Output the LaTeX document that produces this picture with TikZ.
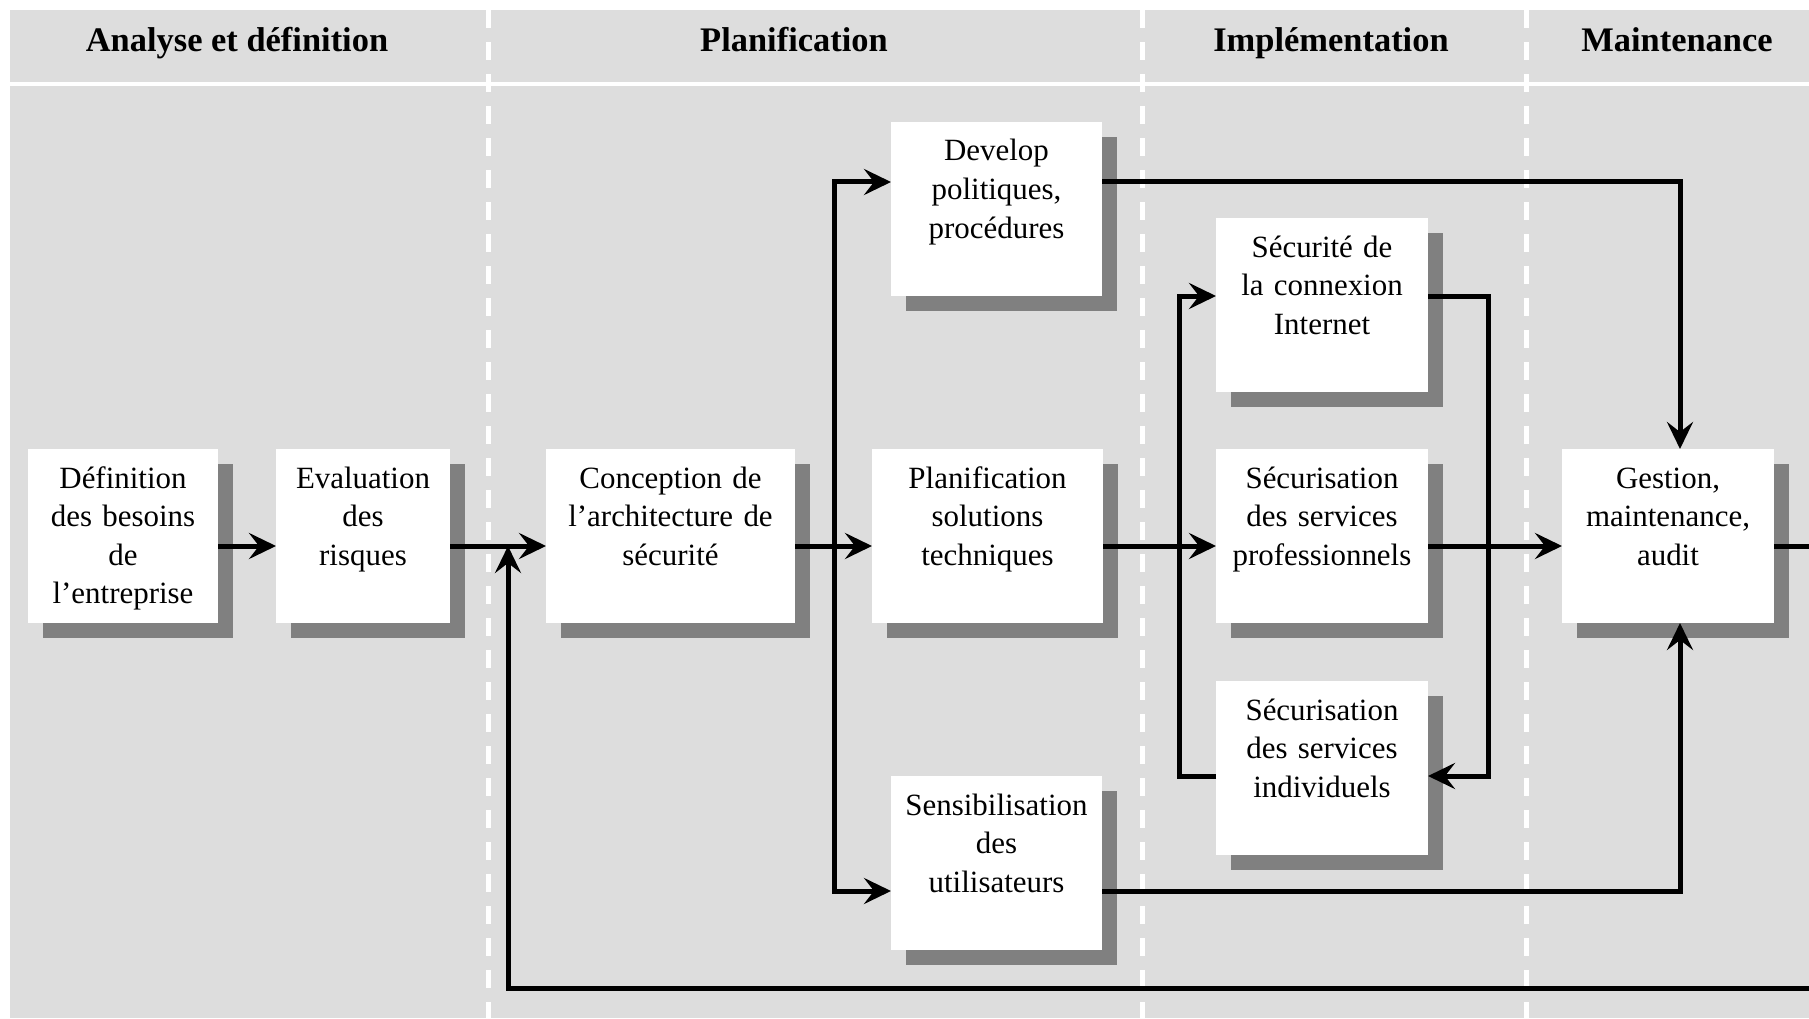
\documentclass[tikz,border=0pt]{standalone}
\usepackage{fontspec}
\setmainfont{Liberation Serif}
\usepackage{tikz}
\usetikzlibrary{arrows.meta,positioning,shadows}
\definecolor{bggray}{RGB}{221,221,221}
\definecolor{shadowgray}{RGB}{128,128,128}

\begin{document}
\begin{tikzpicture}[line width=0.05cm, >={Stealth[length=0.27cm,width=0.26cm,inset=0.1cm]},
stage/.style={fill=white,anchor=north west,inner sep=0pt,outer sep=0pt,text width=#1,align=center,text height=0.39cm,text depth=1.35cm,font=\fontsize{8.8}{11}\selectfont,drop shadow={shadow xshift=0.15cm,shadow yshift=-0.15cm,fill=shadowgray,opacity=1}},
phasehead/.style={anchor=base,font=\bfseries\fontsize{9.8}{12}\selectfont},
lane/.style={white,dash pattern=on 0.18cm off 0.14cm}]
\useasboundingbox (0,0) rectangle (18.09,10.18);
% background, header band and phase separators
\fill[bggray] (0.10,0) rectangle (18.09,10.08);
\draw[white,line width=0.04cm] (0.10,9.34) -- (18.09,9.34);
\foreach \x in {4.88,11.42,15.26}
  \draw[lane] (\x,10.08) -- (\x,0);
\begin{scope}
\node[phasehead] (hana) at (2.37,9.66) {Analyse et définition};
\node[phasehead] (hplan) at (7.94,9.66) {Planification};
\node[phasehead] (himpl) at (13.31,9.66) {Implémentation};
\node[phasehead] (hmaint) at (16.77,9.66) {Maintenance};
\end{scope}
\begin{scope}
\node[stage=1.90cm] (def) at (0.28,5.69) {Définition\\des besoins\\de\\l’entreprise};
\node[stage=1.74cm] (eval) at (2.76,5.69) {Evaluation\\des\\risques};
\node[stage=2.49cm] (conc) at (5.46,5.69) {Conception de\\l’architecture de\\sécurité};
\node[stage=2.31cm] (plan) at (8.72,5.69) {Planification\\solutions\\techniques};
\node[stage=2.11cm] (dev) at (8.91,8.96) {Develop\\politiques,\\procédures};
\node[stage=2.11cm] (sens) at (8.91,2.42) {Sensibilisation\\des\\utilisateurs};
\node[stage=2.12cm] (inet) at (12.16,8.00) {Sécurité de\\la connexion\\Internet};
\node[stage=2.12cm] (pro) at (12.16,5.69) {Sécurisation\\des services\\professionnels};
\node[stage=2.12cm] (ind) at (12.16,3.37) {Sécurisation\\des services\\individuels};
\node[stage=2.12cm] (gest) at (15.62,5.69) {Gestion,\\maintenance,\\audit};
\end{scope}
% levels of the connectors
\coordinate (ymain) at (0,4.72);
\coordinate (ydev) at (0,8.36);
\coordinate (ysens) at (0,1.27);
\coordinate (ynet) at (0,7.22);
\coordinate (yind) at (0,2.42);
\coordinate (xconc) at (8.34,0);
\coordinate (xplan) at (11.79,0);
\coordinate (xloop) at (14.88,0);
\coordinate (xgest) at (16.80,0);
\coordinate (xback) at (5.08,0);
\coordinate (outR) at (18.09,4.72);
\coordinate (outB) at (18.09,0.30);
\begin{scope}
\draw[->] (def.east |- ymain) -- (eval.west |- ymain);
\draw[->] (eval.east |- ymain) -- (conc.west |- ymain);
\draw[->] (conc.east |- ymain) -- (plan.west |- ymain);
\draw[->] (xconc |- ymain) |- (dev.west |- ydev);
\draw[->] (xconc |- ymain) |- (sens.west |- ysens);
\draw[->] (plan.east |- ymain) -- (pro.west |- ymain);
\draw[->] (ind.west |- yind) -| (xplan |- ynet) -- (inet.west |- ynet);
\draw[->] (inet.east |- ynet) -| (xloop |- yind) -- (ind.east |- yind);
\draw[->] (pro.east |- ymain) -- (gest.west |- ymain);
\draw[->] (dev.east |- ydev) -| (xgest |- gest.north);
\draw[->] (sens.east |- ysens) -| (xgest |- gest.south);
\draw (gest.east |- ymain) -- (outR);
\draw[->] (outB) -| (xback |- ymain);
\end{scope}
\end{tikzpicture}
\end{document}
